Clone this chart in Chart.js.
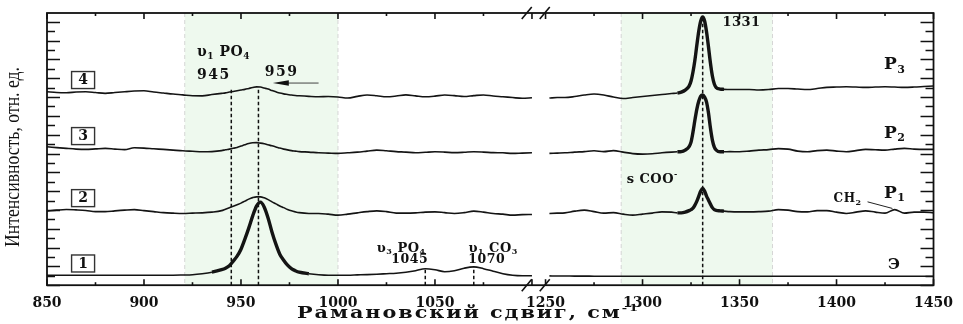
<!DOCTYPE html>
<html>
<head>
<meta charset="utf-8">
<style>
  html, body { margin: 0; padding: 0; background: #fff; }
  canvas { display: block; }
</style>
<script src="https://cdn.jsdelivr.net/npm/chart.js@4.4.1/dist/chart.umd.min.js"></script>
</head>
<body>
<canvas id="c" width="963" height="324"></canvas>
<script>
/* Raman spectra, broken x axis 850-1100 | 1250-1450 */

// wavenumbers, cm-1
var waveLeft = [850, 855, 860, 865, 870, 875, 880, 885, 890, 895, 900, 905, 910, 915, 920, 925, 930, 935,
  940, 942, 944, 946, 948, 950, 952, 954, 956, 958, 960, 962, 964, 966, 968, 970, 972, 974, 976, 978, 980,
  985, 990, 995, 1000, 1005, 1010, 1015, 1020, 1025, 1030, 1035, 1040, 1045, 1050, 1055, 1060, 1065, 1070,
  1075, 1080, 1085, 1090, 1095, 1100];
var waveRight = [1252, 1256, 1260, 1265, 1270, 1275, 1280, 1285, 1290, 1295, 1300, 1305, 1310, 1315,
  1318, 1320, 1322, 1324, 1325, 1326, 1327, 1328, 1329, 1330, 1331, 1332, 1333, 1334, 1335, 1336, 1337, 1338,
  1340, 1342, 1345, 1350, 1355, 1360, 1365, 1370, 1375, 1380, 1385, 1390, 1395, 1400, 1405, 1410, 1415,
  1420, 1425, 1430, 1435, 1440, 1445, 1450];

var tickWaves = [850, 900, 950, 1000, 1050, 1250, 1300, 1350, 1400, 1450];

// spectrum 1 / Э
var specE_left = [10, 10, 10, 10, 10, 10, 10, 10, 10, 10, 10, 10, 10, 10, 10.2, 10.5, 11.5, 13,
  15.5, 17, 19.5, 24, 29, 36, 46, 57, 69, 79, 83, 78, 67, 53, 41, 31, 25, 20, 16.5, 14.5, 13,
  11.5, 10.5, 10, 10, 10, 10.3, 10.6, 11, 11.5, 12, 13, 14.5, 16.5, 15.5, 13.5, 14.5, 17, 18.3, 16.5, 14, 11.5, 10, 9.5, 9.5];
var specE_right = [9.3, 9.2, 9.2, 9.1, 9.1, 9, 9, 9, 9, 9, 9, 9, 9, 9,
  9, 9, 9, 9, 9, 9, 9, 9, 9, 9, 9, 9, 9, 9, 9, 9, 9, 9,
  9, 9, 9, 9, 9, 9, 9, 9, 9, 9, 9, 9, 9, 9, 9, 9, 9, 9, 9, 9, 9, 9, 9, 9];

// spectrum 2 / P1
var specP1_left = [74, 75, 75.7, 75.3, 74.7, 73.5, 73.5, 74.3, 75, 75.5, 74.5, 73.5, 72.5, 72, 71.7, 72, 72.3, 73,
  74.5, 76, 77.5, 79, 80.5, 82, 84, 86, 87.5, 88.3, 88.3, 87.3, 85.5, 83.3, 81.3, 79.2, 77.5, 75.7, 74.3, 73.3, 72.5,
  71.7, 71.7, 71, 70, 71, 72.3, 73.5, 74.3, 73.5, 72, 72, 72.3, 73, 73.3, 72.5, 71.7, 72.5, 74, 73, 71.7, 71, 70, 70.5, 70.7];
var specP1_right = [71.7, 72, 72.3, 74, 75, 73.5, 72, 72.5, 71, 70, 71, 72, 73.3, 73,
  72.3, 72.3, 73, 74.5, 75.5, 77, 80, 84, 89, 94, 96.7, 94, 89, 85, 81, 77.5, 75.5, 74.7,
  74.3, 74, 73.5, 73.3, 73.3, 73.5, 74, 75.5, 75, 73.5, 73.3, 74.5, 74.5, 73, 71.7, 73, 74.3,
  73, 72, 75.5, 72, 73, 73, 72.3];

// spectrum 3 / P2
var specP2_left = [138.3, 137.5, 136.7, 136, 135.7, 136.2, 136.7, 136, 135.5, 137.3, 137, 136.3, 135.7, 135, 134.3, 133.8, 133.3, 133.5,
  134.5, 135.3, 136, 136.8, 137.7, 139, 140.3, 141.5, 142.3, 142.5, 142, 141.3, 140.3, 139.3, 138.2, 137, 136, 135.2, 134.5, 134, 133.5,
  133, 132.3, 132, 131.7, 132.3, 133, 134, 135, 134.3, 133.5, 133, 132.3, 132.8, 133.3, 133, 132.5, 132.8, 133.3, 133, 132.5, 132.3, 131.7, 132, 132.3];
var specP2_right = [131.7, 132, 132.3, 133, 133.5, 134.3, 133.5, 134.5, 133, 131.5, 131, 131.3, 132.3, 133,
  133.3, 133.5, 135, 138.5, 143, 153, 165, 176, 184, 189, 190, 188, 183, 172, 157, 145, 138, 135,
  133.3, 133.3, 133.5, 133.3, 134, 135, 135.5, 136.5, 136, 134, 133.3, 134.5, 135, 134, 133.3, 134.5, 135.7,
  135.3, 135, 136, 136.7, 136, 135.7, 135.7];

// spectrum 4 / P3
var specP3_left = [193.3, 192.5, 192.3, 193, 193.3, 192.5, 191.7, 192.5, 193.3, 194, 194.3, 193, 192, 191, 190.2, 189.3, 189.2, 190.5,
  191.7, 192.2, 193, 193.6, 194.3, 195, 195.7, 196.6, 197.5, 198.2, 198, 197, 196, 194.5, 193.2, 192, 191.2, 190.6, 190, 189.6, 189.3,
  188.7, 188.3, 188.5, 188.1, 187, 188.7, 190, 189.3, 188.3, 189, 190.2, 189.2, 188.3, 188.9, 190, 189.4, 188.5, 189.4, 190.1, 189, 188.3, 187.5, 186.8, 187.3];
var specP3_right = [187, 187.5, 187.5, 188.5, 190, 191, 190, 188, 186.5, 187.5, 188.5, 189.5, 190.5, 191.5,
  192, 193, 195, 199, 204, 213, 225, 240, 254, 264, 268, 264, 253, 238, 222, 209, 201, 197.5,
  196, 195.7, 195.5, 195.5, 195.5, 195, 195.5, 196.5, 196.5, 196, 195.5, 196.5, 197.7, 198, 198.3, 198, 197.7,
  198, 198.3, 198, 197.7, 198, 198.5, 199];

var shadeBands = [[921, 1000], [1289, 1367]];
var markerWaves = [945, 959, 1045, 1070, 1331];
var markerTops = [197, 197, 17, 18.3, 268];
var boxNums = ['4', '3', '2', '1'];
var boxLevels = [205, 149, 87, 21.7];

var labelItems = [
  { parts: [['υ', 0], ['1', 1], [' PO', 0], ['4', 1]], wn: 941, h: 233, size: 14 },
  { parts: [['945', 0]], wn: 936, h: 210, size: 14 },
  { parts: [['959', 0]], wn: 971, h: 213, size: 14 },
  { parts: [['υ', 0], ['3', 1], [' PO', 0], ['4', 1]], wn: 1032.6, h: 37, size: 13 },
  { parts: [['1045', 0]], wn: 1037, h: 25.5, size: 12.5 },
  { parts: [['υ', 0], ['1', 1], [' CO', 0], ['3', 1]], wn: 1080, h: 37, size: 13 },
  { parts: [['1070', 0]], wn: 1076.7, h: 25.5, size: 12.5 },
  { parts: [['1331', 0]], wn: 1351, h: 262, size: 13 },
  { parts: [['s COO', 0], ['-', 2]], wn: 1305, h: 105, size: 13 },
  { parts: [['P', 0], ['3', 1]], wn: 1430, h: 220, size: 17 },
  { parts: [['P', 0], ['2', 1]], wn: 1430, h: 152, size: 17 },
  { parts: [['P', 0], ['1', 1]], wn: 1430, h: 92, size: 17 },
  { parts: [['CH', 0], ['2', 1]], wn: 1405.7, h: 86, size: 12 },
  { parts: [['Э', 0]], wn: 1430, h: 20, size: 15 }
];

// broken axis: 850..1100 -> 0..250, 1250..1450 -> 257..457
function toU(w) { return w <= 1100 ? w - 850 : w - 1250 + 257; }
function fromU(u) { return u <= 250 ? u + 850 : u - 257 + 1250; }

function series(left, right) {
  var pts = waveLeft.map(function (w, i) { return { x: toU(w), y: left[i] }; });
  pts.push({ x: 253.5, y: null });
  waveRight.forEach(function (w, i) { pts.push({ x: toU(w), y: right[i] }); });
  return pts;
}

function inRanges(w, ranges) {
  return ranges.some(function (r) { return w >= r[0] && w <= r[1]; });
}

function makeSet(label, left, right, thick) {
  return {
    label: label,
    data: series(left, right),
    borderColor: '#141414',
    borderWidth: 1.6,
    pointRadius: 0,
    cubicInterpolationMode: 'monotone',
    segment: {
      borderWidth: function (ctx) {
        var w = fromU((ctx.p0.parsed.x + ctx.p1.parsed.x) / 2);
        return inRanges(w, thick) ? 3.4 : 1.6;
      }
    }
  };
}

var SERIF = '"DejaVu Serif", serif';

function partFont(p, size) {
  var s = p[1] ? Math.round(size * 0.65) : size;
  return 'bold ' + s + 'px ' + SERIF;
}

function drawParts(ctx, parts, cx, cy, size, spacing, fitWidth) {
  ctx.save();
  ctx.letterSpacing = spacing + 'px';
  var ws = parts.map(function (p) { ctx.font = partFont(p, size); return ctx.measureText(p[0]).width; });
  var total = ws.reduce(function (a, b) { return a + b; }, 0);
  var sx = fitWidth ? fitWidth / total : 1;
  ctx.translate(cx, cy);
  ctx.scale(sx, 1);
  ctx.textBaseline = 'middle';
  ctx.textAlign = 'left';
  ctx.fillStyle = '#111';
  var xx = -total / 2;
  parts.forEach(function (p, i) {
    ctx.font = partFont(p, size);
    var dy = p[1] === 1 ? size * 0.32 : (p[1] === 2 ? -size * 0.38 : 0);
    ctx.fillText(p[0], xx, dy);
    xx += ws[i];
  });
  ctx.restore();
}

function line(ctx, x0, y0, x1, y1) {
  ctx.beginPath(); ctx.moveTo(x0, y0); ctx.lineTo(x1, y1); ctx.stroke();
}

var annot = {
  id: 'annot',
  beforeDatasetsDraw: function (chart) {
    var ctx = chart.ctx, a = chart.chartArea, xs = chart.scales.x;
    ctx.save();
    shadeBands.forEach(function (b) {
      var x0 = xs.getPixelForValue(toU(b[0])), x1 = xs.getPixelForValue(toU(b[1]));
      ctx.fillStyle = '#eef9ee';
      ctx.fillRect(x0, a.top, x1 - x0, a.bottom - a.top);
      ctx.strokeStyle = '#d6d6d6';
      ctx.lineWidth = 1;
      ctx.setLineDash([4, 3]);
      line(ctx, x0, a.top, x0, a.bottom);
      line(ctx, x1, a.top, x1, a.bottom);
    });
    ctx.restore();
  },
  afterDatasetsDraw: function (chart) {
    var ctx = chart.ctx, a = chart.chartArea, xs = chart.scales.x, ys = chart.scales.y;
    var px = function (w) { return xs.getPixelForValue(toU(w)); };
    var py = function (h) { return ys.getPixelForValue(h); };
    ctx.save();
    ctx.strokeStyle = '#111';

    // dashed marker lines
    ctx.lineWidth = 1.5;
    ctx.setLineDash([3.5, 2.5]);
    markerWaves.forEach(function (w, i) { line(ctx, px(w), a.bottom, px(w), py(markerTops[i])); });
    ctx.setLineDash([]);

    // frame
    ctx.lineWidth = 1.8;
    ctx.strokeRect(a.left, a.top, a.right - a.left, a.bottom - a.top);

    // y ticks, both sides, inward
    ctx.lineWidth = 1.5;
    for (var k = 0; k * 9.4 <= 272; k++) {
      var y = Math.round(py(k * 9.4)) + 0.5;
      var len = k % 2 === 0 ? 13 : 8;
      line(ctx, a.left, y, a.left + len, y);
      line(ctx, a.right, y, a.right - len, y);
    }

    // x ticks, top and bottom, inward
    var xt = [];
    for (var w = 850; w <= 1100; w += 25) xt.push(w);
    for (w = 1250; w <= 1450; w += 25) xt.push(w);
    ctx.lineWidth = 1.6;
    xt.forEach(function (w) {
      var len = w % 50 === 0 ? 6 : 3;
      var x = px(w);
      line(ctx, x, a.top, x, a.top + len);
      line(ctx, x, a.bottom, x, a.bottom - len);
    });

    // axis break marks
    var gx = xs.getPixelForValue(253.5) - 3;
    ctx.lineWidth = 1.6;
    [a.top, a.bottom].forEach(function (yy) {
      [-9, 9].forEach(function (d) { line(ctx, gx + d - 5, yy + 6, gx + d + 5, yy - 6); });
    });

    // boxed spectrum numbers
    ctx.lineWidth = 1.4;
    ctx.strokeStyle = '#333';
    boxNums.forEach(function (n, i) {
      var cx = px(868.6), cy = py(boxLevels[i]);
      ctx.strokeRect(cx - 11.5, cy - 8.5, 23, 17);
      drawParts(ctx, [[n, 0]], cx, cy + 0.5, 14, 0);
    });

    // arrow to 959
    ctx.strokeStyle = '#444';
    ctx.lineWidth = 1;
    line(ctx, px(990), py(202), px(970), py(202));
    ctx.fillStyle = '#111';
    ctx.beginPath();
    ctx.moveTo(px(966.4), py(202));
    ctx.lineTo(px(966.4) + 16, py(202) - 2.8);
    ctx.lineTo(px(966.4) + 16, py(202) + 2.8);
    ctx.closePath();
    ctx.fill();

    // CH2 leader
    ctx.strokeStyle = '#222';
    line(ctx, px(1416), py(83.3), px(1428.8), py(76.7));

    labelItems.forEach(function (t) {
      drawParts(ctx, t.parts, px(t.wn), py(t.h), t.size, t.size > 13 && t.parts.length === 1 ? 1.5 : 0.5);
    });

    // axis titles
    drawParts(ctx, [['Рамановский сдвиг, см', 0], ['-1', 2]], 468.5, 314, 16, 1.5, 343);

    ctx.save();
    ctx.translate(14, 157);
    ctx.rotate(-Math.PI / 2);
    ctx.font = '20px "Liberation Serif", serif';
    var title = 'Интенсивность, отн. ед.';
    var tw = ctx.measureText(title).width;
    ctx.scale(180 / tw, 1);
    ctx.textAlign = 'center';
    ctx.textBaseline = 'middle';
    ctx.fillStyle = '#111';
    ctx.fillText(title, 0, 0);
    ctx.restore();

    ctx.restore();
  }
};

new Chart(document.getElementById('c'), {
  type: 'line',
  data: {
    datasets: [
      makeSet('1 (Э)', specE_left, specE_right, [[936, 986]]),
      makeSet('2 (P1)', specP1_left, specP1_right, [[1319, 1342]]),
      makeSet('3 (P2)', specP2_left, specP2_right, [[1319, 1342]]),
      makeSet('4 (P3)', specP3_left, specP3_right, [[1319, 1342]])
    ]
  },
  options: {
    responsive: false,
    animation: false,
    layout: { padding: { left: 47, right: 25, top: 13, bottom: 2 } },
    plugins: { legend: { display: false }, tooltip: { enabled: false } },
    scales: {
      x: {
        type: 'linear',
        min: 0,
        max: 457,
        grid: { display: false, drawTicks: false },
        border: { display: false },
        afterBuildTicks: function (scale) {
          scale.ticks = tickWaves.map(function (w) { return { value: toU(w) }; });
        },
        ticks: {
          autoSkip: false,
          maxRotation: 0,
          padding: 10,
          color: '#111',
          font: { family: SERIF, weight: 'bold', size: 14 },
          callback: function (v) { return String(Math.round(fromU(v))); }
        }
      },
      y: { display: false, min: 0, max: 272 }
    }
  },
  plugins: [annot]
});
</script>
</body>
</html>
